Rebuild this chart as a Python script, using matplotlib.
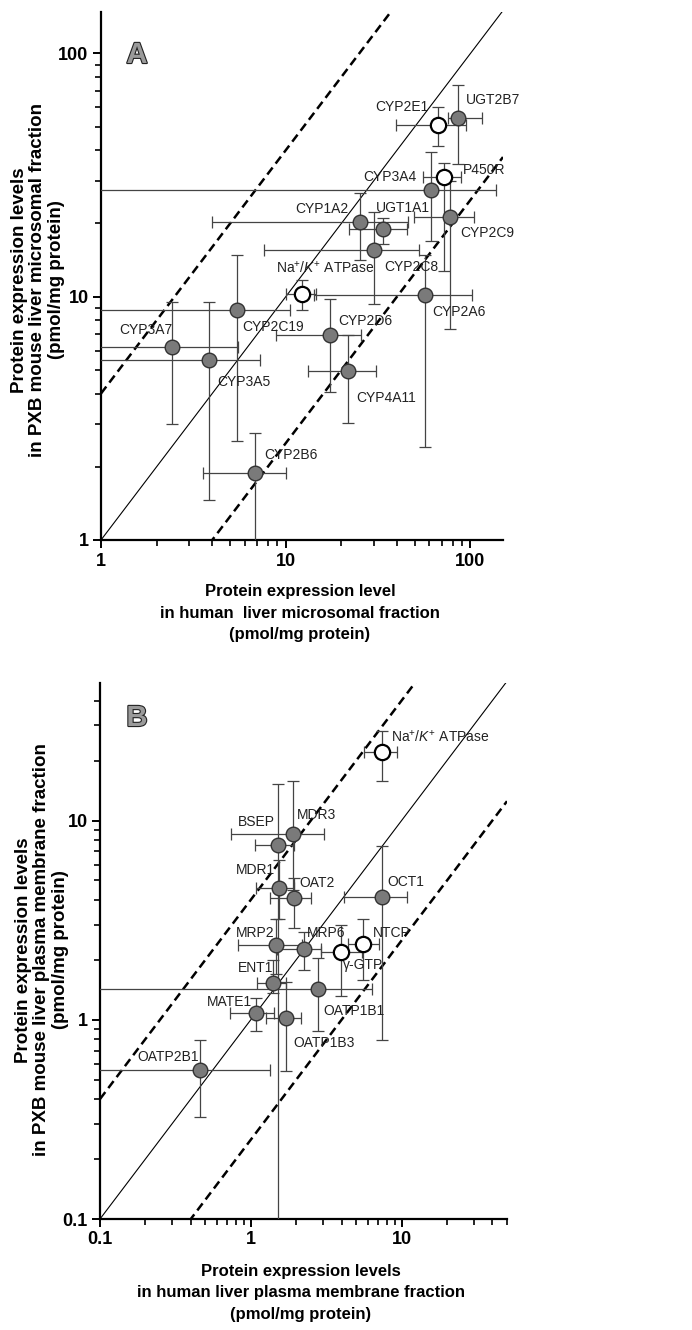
import numpy as np
import matplotlib
matplotlib.use('Agg')
import matplotlib.pyplot as plt
import matplotlib.patheffects as pe
from matplotlib.ticker import FixedLocator, FixedFormatter, LogLocator, NullFormatter

plt.rcParams['font.family'] = ['Liberation Sans', 'DejaVu Sans']
plt.rcParams['mathtext.fontset'] = 'custom'
plt.rcParams['mathtext.rm'] = 'Liberation Sans'
plt.rcParams['mathtext.it'] = 'Liberation Sans:italic'

NAK = r'Na$^{+}$/$\mathit{K}^{+}$ ATPase'

# ---- panel A: microsomal fraction ----
a_names = ['CYP2E1', 'UGT2B7', 'P450R', 'CYP3A4', 'CYP1A2', 'UGT1A1', 'CYP2C9', NAK,
           'CYP2C8', 'CYP2A6', 'CYP2D6', 'CYP2C19', 'CYP3A7', 'CYP3A5', 'CYP4A11', 'CYP2B6']
a_x = [67, 86, 72, 61.4, 25.2, 33.7, 77.9, 12.2, 30.1, 57, 17.3, 5.42, 2.43, 3.86, 21.7, 6.78]
a_y = [51, 54.5, 31, 27.5, 20.3, 18.9, 21.3, 10.3, 15.6, 10.2, 6.98, 8.85, 6.22, 5.5, 4.96, 1.89]
a_xlo = [39.6, 75.9, 55.6, 0.5, 4.0, 22, 49.6, 10, 7.6, 14.2, 8.9, 0.5, 0.5, 0.5, 13.2, 3.58]
a_xhi = [95, 116, 89, 138, 46, 45.5, 105, 14.6, 52.8, 102, 25.6, 10.5, 5.55, 7.3, 30.8, 10]
a_ylo = [41.8, 35, 12.7, 17, 14.2, 16.5, 7.4, 8.85, 9.36, 2.41, 4.06, 2.55, 3.0, 1.46, 3.03, 0.5]
a_yhi = [60.5, 74.5, 35.3, 39.5, 26.8, 21.1, 30, 11.7, 22.2, 14.9, 9.8, 14.9, 9.5, 9.5, 6.98, 2.76]
a_open = [True, False, True, False, False, False, False, True,
          False, False, False, False, False, False, False, False]

# ---- panel B: plasma membrane fraction ----
b_names = [NAK, 'BSEP', 'MDR3', 'MDR1', 'OAT2', 'OCT1', 'MRP2', 'MRP6', 'NTCP',
           'ENT1', 'γ-GTP', 'MATE1', 'OATP1B1', 'OATP1B3', 'OATP2B1']
b_x = [7.47, 1.51, 1.91, 1.54, 1.94, 7.47, 1.47, 2.26, 5.58, 1.40, 3.98, 1.08, 2.8, 1.71, 0.46]
b_y = [22.0, 7.57, 8.6, 4.61, 4.1, 4.15, 2.38, 2.27, 2.41, 1.53, 2.2, 1.08, 1.43, 1.02, 0.56]
b_xlo = [5.67, 1.06, 0.735, 1.08, 1.34, 4.17, 0.82, 1.49, 4.43, 1.1, 2.93, 0.724, 0.05, 1.26, 0.05]
b_xhi = [9.26, 1.94, 3.07, 1.94, 2.51, 10.8, 2.2, 2.93, 7.13, 1.71, 5.5, 1.42, 6.4, 2.15, 1.34]
b_ylo = [15.7, 0.05, 4.5, 3.22, 2.9, 0.79, 1.7, 1.78, 1.59, 1.37, 1.32, 0.88, 0.88, 0.55, 0.326]
b_yhi = [28.3, 15.2, 15.7, 6.37, 5.17, 7.49, 3.22, 2.77, 3.22, 2.0, 3.0, 1.29, 2.05, 1.55, 0.79]
b_open = [True, False, False, False, False, False, False, False, True,
          False, True, False, False, False, False]

# label offsets from the marker (pixels) and alignment
a_lab = [(-10, 18, 'right'), (8, 18, 'left'), (19, 7, 'left'), (-15, 13, 'right'),
         (-11, 13, 'right'), (-7, 21, 'left'), (10, -16, 'left'), (-26, 26, 'left'),
         (10, -17, 'left'), (7, -17, 'left'), (9, 14, 'left'), (6, -17, 'left'),
         (-53, 17, 'left'), (8, -22, 'left'), (8, -27, 'left'), (10, 18, 'left')]
b_lab = [(9, 16, 'left'), (-40, 23, 'left'), (4, 19, 'left'), (-43, 18, 'left'),
         (5, 15, 'left'), (5, 15, 'left'), (-40, 12, 'left'), (3, 16, 'left'),
         (9, 11, 'left'), (-35, 15, 'left'), (2, -13, 'left'), (-49, 11, 'left'),
         (5, -22, 'left'), (7, -25, 'left'), (-63, 13, 'left')]

W, H = 692, 1330
fig = plt.figure(figsize=(W / 100, H / 100), dpi=100)


def px_axes(l, t, r, b):
    return fig.add_axes([l / W, 1 - b / H, (r - l) / W, (b - t) / H])


def draw_panel(ax, names, x, y, xlo, xhi, ylo, yhi, is_open, labs, xlim, ylim, xt, yt):
    x = np.array(x); y = np.array(y)
    xerr = [x - np.array(xlo), np.array(xhi) - x]
    yerr = [y - np.array(ylo), np.array(yhi) - y]
    ax.errorbar(x, y, xerr=xerr, yerr=yerr, fmt='none', ecolor='#444444',
                elinewidth=0.9, capsize=4.5, capthick=0.9, zorder=3)
    op = np.array(is_open)
    ax.plot(x[~op], y[~op], 'o', ms=10.5, mfc='#7a7a7a', mec='#333333', mew=1.0, zorder=5)
    ax.plot(x[op], y[op], 'o', ms=11, mfc='white', mec='black', mew=1.6, zorder=5)
    for i, name in enumerate(names):
        dx, dy, ha = labs[i]
        ax.annotate(name, (x[i], y[i]), xytext=(dx, dy), textcoords='offset pixels',
                    ha=ha, va='center', fontsize=10, color='#222222', zorder=6)
    xx = np.array(xlim, dtype=float)
    ax.plot(xx, xx, color='black', lw=0.8, zorder=2)
    ax.plot(xx, 4 * xx, color='black', lw=1.8, ls=(0, (3.5, 2)), zorder=2)
    ax.plot(xx, xx / 4, color='black', lw=1.8, ls=(0, (3.5, 2)), zorder=2)
    ax.set_xscale('log'); ax.set_yscale('log')
    ax.set_xlim(xlim); ax.set_ylim(ylim)
    for s in ['top', 'right']:
        ax.spines[s].set_visible(False)
    for s in ['left', 'bottom']:
        ax.spines[s].set_linewidth(1.6)
    ax.xaxis.set_major_locator(FixedLocator(xt))
    ax.xaxis.set_major_formatter(FixedFormatter([('%g' % v) for v in xt]))
    ax.yaxis.set_major_locator(FixedLocator(yt))
    ax.yaxis.set_major_formatter(FixedFormatter([('%g' % v) for v in yt]))
    ax.xaxis.set_minor_locator(LogLocator(base=10, subs=np.arange(2, 10)))
    ax.yaxis.set_minor_locator(LogLocator(base=10, subs=np.arange(2, 10)))
    ax.xaxis.set_minor_formatter(NullFormatter())
    ax.yaxis.set_minor_formatter(NullFormatter())
    ax.tick_params(which='major', length=6, width=1.4, direction='out', pad=3)
    ax.tick_params(which='minor', length=4, width=1.2, direction='out')
    for lab in ax.get_xticklabels() + ax.get_yticklabels():
        lab.set_fontweight('bold')
        lab.set_fontsize(13)


axA = px_axes(101, 12, 503, 540)
draw_panel(axA, a_names, a_x, a_y, a_xlo, a_xhi, a_ylo, a_yhi, a_open, a_lab,
           (1, 150), (1, 148), [1, 10, 100], [1, 10, 100])

axB = px_axes(100, 683, 507, 1219)
draw_panel(axB, b_names, b_x, b_y, b_xlo, b_xhi, b_ylo, b_yhi, b_open, b_lab,
           (0.1, 50), (0.1, 49), [0.1, 1, 10], [0.1, 1, 10])

# panel letters (outlined)
for letter, (px, py) in [('A', (137, 55)), ('B', (137, 718))]:
    fig.text(px / W, 1 - py / H, letter, fontsize=21, fontweight='bold',
             color='#9a9a9a', ha='center', va='center',
             path_effects=[pe.withStroke(linewidth=1.6, foreground='#222222')])

# axis titles
fig.text(300 / W, 1 - 613 / H,
         'Protein expression level\nin human  liver microsomal fraction\n(pmol/mg protein)',
         ha='center', va='center', fontsize=12, fontweight='bold', linespacing=1.55)
fig.text(38 / W, 1 - 280 / H,
         'Protein expression levels\nin PXB mouse liver microsomal fraction\n(pmol/mg protein)',
         ha='center', va='center', rotation=90, fontsize=13.5, fontweight='bold',
         linespacing=1.1)
fig.text(301 / W, 1 - 1293 / H,
         'Protein expression levels\nin human liver plasma membrane fraction\n(pmol/mg protein)',
         ha='center', va='center', fontsize=12, fontweight='bold', linespacing=1.55)
fig.text(42 / W, 1 - 950 / H,
         'Protein expression levels\nin PXB mouse liver plasma membrane fraction\n(pmol/mg protein)',
         ha='center', va='center', rotation=90, fontsize=13.5, fontweight='bold',
         linespacing=1.1)

fig.savefig('out.png', dpi=100)
